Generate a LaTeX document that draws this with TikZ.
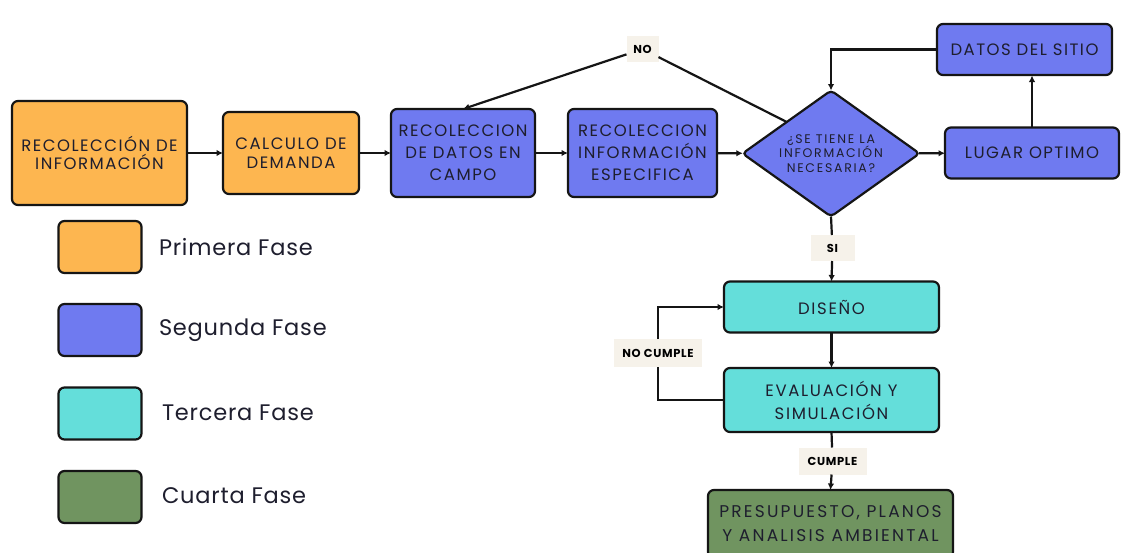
\documentclass[tikz,border=0pt]{standalone}
\usepackage{fontspec}
\usetikzlibrary{arrows.meta,shapes.geometric}
\newfontfamily\bxfont{Poppins}[LetterSpace=9.0]
\newfontfamily\cyfont{Poppins}[LetterSpace=10.0]
\newfontfamily\prfont{Poppins}[LetterSpace=13.0]
\newfontfamily\dmfont{Poppins}[LetterSpace=14.0]
\newfontfamily\lgfont{Poppins}[LetterSpace=3.5]
\newfontfamily\lbfont{Poppins}[LetterSpace=6.0]
\definecolor{orng}{HTML}{FDB650}
\definecolor{blu}{HTML}{6F7AF0}
\definecolor{cyn}{HTML}{64DEDA}
\definecolor{grn}{HTML}{709460}
\definecolor{lblbg}{HTML}{F6F2EA}
\definecolor{txt}{HTML}{1E1E2E}
\definecolor{edge}{HTML}{151515}
\begin{document}
\begin{tikzpicture}[x=1pt,y=-1pt,
  every node/.style={inner sep=0pt, outer sep=0pt},
  box/.style={draw=edge, line width=2.2pt, rounded corners=6pt, align=center, text=txt},
  orbox/.style={box, fill=orng, font=\bxfont\fontsize{16.5}{18.5}\selectfont},
  blbox/.style={box, fill=blu, font=\bxfont\fontsize{16.5}{22}\selectfont},
  cybox/.style={box, fill=cyn, font=\cyfont\fontsize{16.5}{23}\selectfont},
  grbox/.style={box, fill=grn, font=\prfont\fontsize{17}{24}\selectfont},
  swatch/.style={draw=edge, line width=2.2pt, rounded corners=6pt, minimum width=83pt, minimum height=52pt},
  legtext/.style={anchor=west, text=txt, font=\lgfont\fontsize{22.5}{24}\selectfont},
  lbl/.style={fill=lblbg, text=black, font=\lbfont\bfseries\fontsize{11.5}{12}\selectfont},
  conn/.style={draw=edge, line width=2.2pt},
  arr/.style={conn, -{Latex[length=6.5pt,width=6.5pt]}}
]
\useasboundingbox (0,0) rectangle (1121,552);
\fill[white] (0,0) rectangle (1121,552);

% main boxes
\node[orbox, minimum width=175pt, minimum height=104pt] (r1) at (99.5,153) {RECOLECCIÓN DE\\INFORMACIÓN};
\node[orbox, minimum width=136pt, minimum height=82pt] (calc) at (291,153) {CALCULO DE\\DEMANDA};
\node[blbox, minimum width=144pt, minimum height=88pt] (campo) at (463,153) {RECOLECCION\\DE DATOS EN\\CAMPO};
\node[blbox, minimum width=149pt, minimum height=88pt] (esp) at (642.5,153) {RECOLECCION\\INFORMACIÓN\\ESPECIFICA};
\node[draw=edge, line width=2.2pt, fill=blu, diamond, aspect=1.4, rounded corners=4pt, minimum width=177pt, minimum height=126pt, align=center, text=txt, font=\dmfont\fontsize{12.5}{14.5}\selectfont] (dia) at (831,153.5) {¿SE TIENE LA\\INFORMACIÓN\\NECESARIA?};
\node[blbox, minimum width=174pt, minimum height=51pt] (lugar) at (1032,153) {LUGAR OPTIMO};
\node[blbox, minimum width=175pt, minimum height=51pt] (datos) at (1024.5,49.5) {DATOS DEL SITIO};
\node[cybox, minimum width=215pt, minimum height=51pt] (dis) at (831.5,307) {DISEÑO};
\node[cybox, minimum width=215pt, minimum height=64pt] (eval) at (831.5,400) {EVALUACIÓN Y\\SIMULACIÓN};
\node[grbox, minimum width=245pt, minimum height=68pt] (pres) at (830.5,524) {PRESUPUESTO, PLANOS\\Y ANALISIS AMBIENTAL};

% labels
\node[lbl, minimum width=32pt, minimum height=26pt] (no) at (642.5,49) {NO};
\node[lbl, minimum width=44pt, minimum height=26pt] (si) at (832.5,248) {SI};
\node[lbl, minimum width=88pt, minimum height=28pt] (ncl) at (658,353) {NO CUMPLE};
\node[lbl, minimum width=68pt, minimum height=27pt] (cum) at (832.5,461) {CUMPLE};

% legend
\node[swatch, fill=orng] (s1) at (100,247) {};
\node[swatch, fill=blu] (s2) at (100,330) {};
\node[swatch, fill=cyn] (s3) at (100,413.5) {};
\node[swatch, fill=grn] (s4) at (100,497) {};
\node[legtext] (t1) at (159,247) {Primera Fase};
\node[legtext] (t2) at (159,330) {Segunda Fase};
\node[legtext] (t3) at (162,413) {Tercera Fase};
\node[legtext] (t4) at (162,496) {Cuarta Fase};

% connectors
\draw[arr] (r1) -- (calc);
\draw[arr] (calc) -- (campo);
\draw[arr] (campo) -- (esp);
\draw[arr] (esp) -- (dia);
\draw[arr] (dia) -- (lugar);
\draw[arr] (lugar.north -| 1032,0) -- (1032,75.5);
\draw[arr] (datos.west) -| (dia.north);
\draw[conn] (dia.north west) -- (no);
\draw[arr] (no) -- (campo.north);
\draw[conn] (dia.south) -- (si);
\draw[arr] (si) -- (dis.north);
\draw[arr] (dis) -- (eval);
\draw[conn] (eval.west) -| (ncl);
\draw[arr] (ncl) |- (dis.west);
\draw[conn] (eval.south) -- (cum);
\draw[arr] (cum) -- (pres.north);
\end{tikzpicture}
\end{document}
